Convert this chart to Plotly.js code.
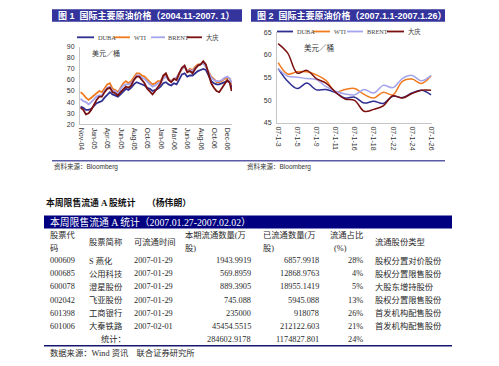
<!DOCTYPE html>
<html>
<head>
<meta charset="utf-8">
<script src="https://cdn.plot.ly/plotly-3.0.1.min.js"></script>
<style>
html,body{margin:0;padding:0;background:#fff;}
#chart{width:499px;height:366px;}
</style>
</head>
<body>
<div id="chart"></div>
<script>
// ---------------- Chart 1 data (2004.11 - 2007.1) ----------------
const dates1 = ['2004-11-01','2004-11-15','2004-11-29','2004-12-13','2004-12-27',
'2005-01-10','2005-01-24','2005-02-07','2005-02-21','2005-03-07','2005-03-21','2005-04-04','2005-04-18','2005-05-02','2005-05-16','2005-05-30','2005-06-13','2005-06-27','2005-07-11','2005-07-25','2005-08-08','2005-08-22','2005-09-05','2005-09-19','2005-10-03','2005-10-17','2005-10-31','2005-11-14','2005-11-28','2005-12-12','2005-12-26',
'2006-01-09','2006-01-23','2006-02-06','2006-02-20','2006-03-06','2006-03-20','2006-04-03','2006-04-17','2006-05-01','2006-05-15','2006-05-29','2006-06-12','2006-06-26','2006-07-10','2006-07-24','2006-08-07','2006-08-21','2006-09-04','2006-09-18','2006-10-02','2006-10-16','2006-10-30','2006-11-13','2006-11-27','2006-12-11','2006-12-25',
'2007-01-03'];
const duba1 = [36,35,33,33,34,37,39,40,41,44,47,49,47,46,45,47,50,52,51,53,56,58,57,56,55,53,52,50,51,52,54,57,58,56,55,57,56,61,65,66,63,64,64,66,68,69,70,69,64,59,57,56,56,57,58,59,58,53];
const wti1 = [49,47,44,42,44,46,48,50,49,53,56,57,52,51,49,53,57,59,57,59,63,66,66,64,63,60,58,56,57,59,59,63,65,61,59,61,62,66,70,72,68,70,69,72,74,74,76,72,68,63,61,58,58,59,61,62,61,56];
const brent1 = [43,41,40,38,40,43,45,46,46,50,53,54,50,50,47,52,55,56,56,57,61,64,64,62,61,58,56,54,55,57,58,61,63,60,59,61,62,66,70,72,68,69,68,71,73,74,75,72,67,62,60,59,59,60,62,63,61,57];
const daqing1 = [35,33,29,30,33,38,42,45,45,49,52,53,49,48,46,49,52,54,53,55,60,63,63,60,57,52,49,47,50,53,57,64,66,60,58,61,60,66,71,73,67,68,66,70,73,74,77,74,66,57,53,50,49,53,56,60,57,50];
const tickDates1 = ['2004-11-03','2005-01-12','2005-03-23','2005-06-01','2005-08-10','2005-10-19','2005-12-28','2006-03-08','2006-05-17','2006-07-26','2006-10-04','2006-12-13'];
const tickLabels1 = ['Nov-04','Jan-05','Apr-05','Jun-05','Aug-05','Oct-05','Jan-06','Mar-06','Jun-06','Aug-06','Oct-06','Dec-06'];

// ---------------- Chart 2 data (2007.1.1 - 2007.1.26) ----------------
const days2 = ['07-1-3','07-1-4','07-1-5','07-1-8','07-1-9','07-1-10','07-1-11','07-1-12','07-1-16','07-1-17','07-1-18','07-1-19','07-1-22','07-1-23','07-1-24','07-1-25','07-1-26'];
const duba2 = [57.0,54.2,52.6,53.8,52.3,52.4,51.7,50.5,50.7,49.4,49.8,49.3,50.9,50.6,51.6,52.2,51.2];
const wti2 = [58.3,55.8,56.3,56.3,55.6,54.4,51.9,52.4,52.6,51.3,50.5,51.8,51.2,54.2,54.7,53.7,55.4];
const brent2 = [57.0,55.3,55.1,54.8,54.6,53.0,52.0,51.4,51.2,52.4,51.6,53.3,52.8,54.8,55.5,54.3,55.5];
const daqing2 = [62.5,60.4,56.0,56.6,54.8,53.8,51.8,50.3,50.0,47.6,48.0,48.8,51.0,50.5,51.5,52.2,52.2];
const ticks2 = ['07-1-3','07-1-5','07-1-9','07-1-11','07-1-16','07-1-18','07-1-22','07-1-24','07-1-26'];

const seriesNames = ['DUBA','WTI','BRENT','大庆'];
const seriesColors = ['#2f2f92','#f27a1e','#a4a4ee','#7a1010'];

// ---------------- Table data ----------------
const codes = ['000609','000685','600078','002042','601398','601006'];
const names = ['S 燕化','公用科技','澄星股份','飞亚股份','工商银行','大秦铁路'];
const listDates = ['2007-01-29','2007-01-29','2007-01-29','2007-01-29','2007-01-29','2007-02-01'];
const thisPeriod = [1943.9919,569.8959,889.3905,745.088,235000,45454.5515];
const circulated = [6857.9918,12868.9763,18955.1419,5945.088,918078,212122.603];
const ratioPct = [28,4,5,13,26,21];
const shareTypes = ['股权分置对价股份','股权分置限售股份','大股东增持股份','股权分置限售股份','首发机构配售股份','首发机构配售股份'];
const totalLabel = '统计：';
const totalThis = 284602.9178;
const totalCirc = 1174827.801;
const totalPct = 24;

// ---------------- helpers ----------------
const W = 499, H = 366;
const px = x => x / W;
const py = y => 1 - y / H;
const SANS = 'Liberation Sans, Arial, Noto Sans CJK SC, sans-serif';
const SERIF = 'Liberation Serif, Noto Sans CJK SC, serif';

const annotations = [];
const shapes = [];
function ann(text, x, y, opt) {
  opt = opt || {};
  annotations.push({
    text: text, xref: 'paper', yref: 'paper', x: px(x), y: py(y),
    xanchor: opt.anchor || 'left', yanchor: 'middle', showarrow: false,
    borderpad: 0,
    font: { family: opt.family || SERIF, size: opt.size || 8.3, color: opt.color || '#2a2a2a', weight: opt.weight || 'normal' }
  });
}
function rect(x0, y0, x1, y1, color) {
  shapes.push({ type: 'rect', xref: 'paper', yref: 'paper', x0: px(x0), x1: px(x1), y0: py(y1), y1: py(y0), fillcolor: color, line: { width: 0 } });
}
function hline(x0, x1, y, color, w) {
  shapes.push({ type: 'line', xref: 'paper', yref: 'paper', x0: px(x0), x1: px(x1), y0: py(y), y1: py(y), line: { color: color, width: w } });
}

// ---------------- traces ----------------
const traces = [];
const s1 = [duba1, wti1, brent1, daqing1];
const s2 = [duba2, wti2, brent2, daqing2];
s1.forEach((ys, i) => traces.push({
  type: 'scatter', mode: 'lines', x: dates1, y: ys, xaxis: 'x', yaxis: 'y',
  name: seriesNames[i], showlegend: false, line: { color: seriesColors[i], width: 1.8 }
}));
s2.forEach((ys, i) => traces.push({
  type: 'scatter', mode: 'lines', x: days2, y: ys, xaxis: 'x2', yaxis: 'y2',
  name: seriesNames[i], showlegend: false, line: { color: seriesColors[i], width: 1.5, shape: 'spline', smoothing: 1 }
}));

// ---------------- header bars, legends, labels ----------------
rect(52, 9.3, 242, 21.7, '#34349c');
rect(251, 9.3, 445, 21.7, '#34349c');
ann('图 1  国际主要原油价格（2004.11-2007. 1）', 57, 15.6, { family: SANS, size: 9, color: '#ffffff', weight: 'bold' });
ann('图 2  国际主要原油价格（2007.1.1-2007.1.26）', 256, 15.6, { family: SANS, size: 9, color: '#ffffff', weight: 'bold' });

const leg1 = [[77, 94, 97], [114, 130, 133], [151, 165, 167], [187, 202, 205]];
const leg2 = [[277, 293, 296], [313, 330, 333], [347, 363, 366], [387, 404, 407]];
leg1.forEach((l, i) => { hline(l[0], l[1], 37.3, seriesColors[i], 1.8); ann(seriesNames[i], l[2], 37.3, { size: 6.3, color: '#444' }); });
leg2.forEach((l, i) => { hline(l[0], l[1], 31.5, seriesColors[i], 1.8); ann(seriesNames[i], l[2], 31.5, { size: 6.3, color: '#444' }); });

ann('美元／桶', 91, 53.5, { size: 7, color: '#333' });
ann('美元／桶', 303, 48, { size: 7.5, color: '#333' });

hline(52, 445, 160.8, '#5b5ba6', 1.6);
ann('资料来源：Bloomberg', 53, 166, { family: SANS, size: 6.5, color: '#333' });
ann('资料来源：Bloomberg', 246, 166, { family: SANS, size: 6.5, color: '#333' });

// ---------------- table section ----------------
ann('本周限售流通 <b>A</b> 股统计', 45, 202.3, { size: 8.8, color: '#111', weight: 'bold' });
ann('（杨伟朗）', 146, 202.3, { size: 8.8, color: '#111', weight: 'bold' });
rect(44, 215.6, 452, 228.4, '#000080');
ann('本周限售流通 A 统计（2007.01.27-2007.02.02）', 48.5, 222.2, { size: 9.8, color: '#ffffff' });

// header
const hy1 = 235, hy2 = 248, hyM = 241.6;
ann('股票代', 49, hy1); ann('码', 49, hy2);
ann('股票简称', 88, hyM);
ann('可流通时间', 133, hyM);
ann('本期流通数量(万', 184, hy1); ann('股)', 184, hy2);
ann('已流通数量(万', 262, hy1); ann('股)', 262, hy2);
ann('流通占比', 329, hy1); ann('(%)', 333, hy2);
ann('流通股份类型', 374, hyM);

// body
const row0 = 260.8, rowH = 13.08;
codes.forEach((c, i) => {
  const y = row0 + i * rowH;
  ann(c, 49, y);
  ann(names[i], 88, y);
  ann(listDates[i], 133, y);
  ann(String(thisPeriod[i]), 252, y, { anchor: 'right' });
  ann(String(circulated[i]), 320, y, { anchor: 'right' });
  ann(ratioPct[i] + '%', 364, y, { anchor: 'right' });
  ann(shareTypes[i], 374, y);
});
const yt = row0 + codes.length * rowH;
ann(totalLabel, 100, yt);
ann(String(totalThis), 252, yt, { anchor: 'right' });
ann(String(totalCirc), 320, yt, { anchor: 'right' });
ann(totalPct + '%', 364, yt, { anchor: 'right' });
hline(44, 452, 345.7, '#17176e', 1.6);
ann('数据来源：Wind 资讯　联合证券研究所', 49, 353.3);

// ---------------- layout ----------------
const axisCommon = {
  showgrid: false, zeroline: false, showline: true, linecolor: '#c6c6c6', linewidth: 1,
  ticks: '', tickfont: { family: SANS, size: 7, color: '#333' }, fixedrange: true
};
const layout = {
  width: W, height: H, margin: { l: 0, r: 0, t: 0, b: 0 },
  paper_bgcolor: '#ffffff', plot_bgcolor: 'rgba(0,0,0,0)',
  font: { family: SANS },
  showlegend: false,
  xaxis: Object.assign({}, axisCommon, {
    type: 'date', domain: [px(80), px(232)], range: ['2004-10-29', '2007-01-05'],
    tickmode: 'array', tickvals: tickDates1, ticktext: tickLabels1, tickangle: 90,
    anchor: 'y', ticklabelstandoff: 1
  }),
  yaxis: Object.assign({}, axisCommon, {
    domain: [py(124.3), py(46.7)], range: [20, 90], dtick: 10, tick0: 20, anchor: 'x', ticklabelstandoff: 3
  }),
  xaxis2: Object.assign({}, axisCommon, {
    type: 'category', domain: [px(277), px(432)], range: [-0.12, 16.1],
    tickmode: 'array', tickvals: ticks2, ticktext: ticks2, tickangle: 90,
    anchor: 'y2', ticklabelstandoff: 1
  }),
  yaxis2: Object.assign({}, axisCommon, {
    domain: [py(123), py(32.3)], range: [45, 65], dtick: 5, tick0: 45, anchor: 'x2', ticklabelstandoff: 3
  }),
  shapes: shapes,
  annotations: annotations
};

Plotly.newPlot('chart', traces, layout, { staticPlot: true, displayModeBar: false });
</script>
</body>
</html>
